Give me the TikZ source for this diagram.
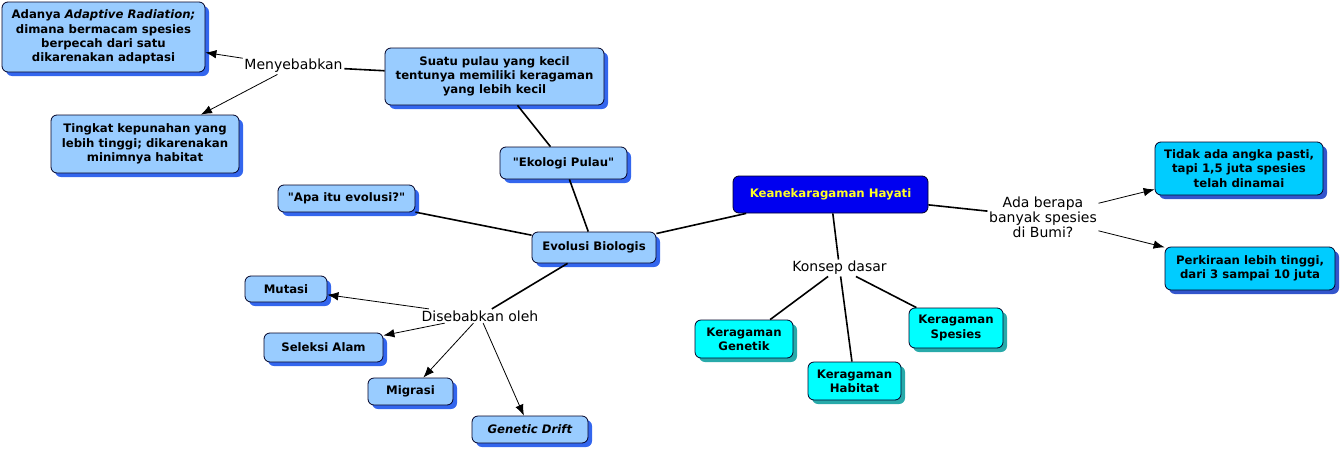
\documentclass[tikz,border=0pt]{standalone}
\usepackage{fontspec}
\setmainfont{DejaVu Sans}
\usetikzlibrary{shadows,arrows.meta}

\definecolor{palefill}{RGB}{153,204,255}
\definecolor{paleshade}{RGB}{51,102,238}
\definecolor{cyanfill}{RGB}{0,255,255}
\definecolor{cyanshade}{RGB}{40,170,170}
\definecolor{skyfill}{RGB}{0,204,255}
\definecolor{skyshade}{RGB}{51,85,204}
\definecolor{hayatifill}{RGB}{0,0,240}
\definecolor{hayatitext}{RGB}{255,255,40}

\tikzset{
  concept/.style={draw=black!85!blue, line width=0.8pt, rounded corners=6pt,
    align=center, inner sep=2pt, font=\fontsize{11.7}{14.3}\selectfont\bfseries},
  palebox/.style={concept, fill=palefill,
    drop shadow={shadow xshift=4pt, shadow yshift=-4pt, opacity=1, fill=paleshade}},
  cyanbox/.style={concept, fill=cyanfill,
    drop shadow={shadow xshift=4pt, shadow yshift=-4pt, opacity=1, fill=cyanshade}},
  skybox/.style={concept, fill=skyfill,
    drop shadow={shadow xshift=4pt, shadow yshift=-4pt, opacity=1, fill=skyshade}},
  hayatibox/.style={concept, fill=hayatifill, text=hayatitext},
  phrase/.style={fill=white, inner sep=1.5pt, align=center,
    font=\fontsize{14}{15}\selectfont},
  link/.style={line width=1.6pt},
  cause/.style={line width=0.8pt, -{Latex[length=11pt,width=8.5pt]}}
}

\begin{document}
\begin{tikzpicture}[x=1pt,y=-1pt]
\useasboundingbox (0,0) rectangle (1341,450);

% left branch
\node[palebox, minimum width=203pt, minimum height=70pt] (adanya) at (103.5,37)
  {Adanya \textit{Adaptive Radiation;}\\ dimana bermacam spesies\\ berpecah dari satu\\ dikarenakan adaptasi};
\node[palebox, minimum width=188pt, minimum height=58pt] (tingkat) at (145,144)
  {Tingkat kepunahan yang\\ lebih tinggi; dikarenakan\\ minimnya habitat};
\node[palebox, minimum width=219pt, minimum height=57pt] (pulau) at (494.5,76.5)
  {Suatu pulau yang kecil\\ tentunya memiliki keragaman\\ yang lebih kecil};
\node[palebox, minimum width=127pt, minimum height=32pt] (ekologi) at (563.5,163)
  {\textquotedbl Ekologi Pulau\textquotedbl};
\node[palebox, minimum width=137pt, minimum height=27pt] (apa) at (346.5,198.5)
  {\textquotedbl Apa itu evolusi?\textquotedbl};
\node[palebox, minimum width=124pt, minimum height=31pt] (evolusi) at (594,247.5) {Evolusi Biologis};
\node[palebox, minimum width=82pt, minimum height=26pt] (mutasi) at (286,289) {Mutasi};
\node[palebox, minimum width=119pt, minimum height=29pt] (seleksi) at (323.5,347.5) {Seleksi Alam};
\node[palebox, minimum width=85pt, minimum height=27pt] (migrasi) at (410.5,391.5) {Migrasi};
\node[palebox, minimum width=116pt, minimum height=27pt] (drift) at (530,429.5) {\textit{Genetic Drift}};

% centre and right
\node[hayatibox, minimum width=195pt, minimum height=37pt] (hayati) at (830.5,194.5) {Keanekaragaman Hayati};
\node[cyanbox, minimum width=98pt, minimum height=38pt] (genetik) at (744,339) {Keragaman\\ Genetik};
\node[cyanbox, minimum width=93pt, minimum height=38pt] (habitat) at (854.5,381) {Keragaman\\ Habitat};
\node[cyanbox, minimum width=94pt, minimum height=40pt] (spesies) at (956,328) {Keragaman\\ Spesies};
\node[skybox, minimum width=168pt, minimum height=53pt] (tidak) at (1239,168.5)
  {Tidak ada angka pasti,\\ tapi 1,5 juta spesies\\ telah dinamai};
\node[skybox, minimum width=170pt, minimum height=43pt] (perkiraan) at (1250,268.5)
  {Perkiraan lebih tinggi,\\ dari 3 sampai 10 juta};

% linking phrases
\node[phrase] (menyebabkan) at (293.5,66) {Menyebabkan};
\node[phrase] (disebabkan) at (480,316) {Disebabkan oleh};
\node[phrase] (konsep) at (839.5,268) {Konsep dasar};
\node[phrase] (berapa) at (1043,217) {Ada berapa\\ banyak spesies\\ di Bumi?};

\draw[link] (pulau) -- (menyebabkan);
\draw[cause] (menyebabkan) -- (adanya);
\draw[cause] (menyebabkan) -- (tingkat);
\draw[link] (pulau) -- (ekologi);
\draw[link] (ekologi) -- (evolusi);
\draw[link] (apa) -- (evolusi);
\draw[link] (evolusi) -- (hayati);
\draw[link] (evolusi) -- (disebabkan);
\draw[cause] (disebabkan) -- (mutasi);
\draw[cause] (disebabkan) -- (seleksi);
\draw[cause] (disebabkan) -- (migrasi);
\draw[cause] (disebabkan) -- (drift);
\draw[link] (hayati) -- (konsep);
\draw[link] (konsep) -- (genetik);
\draw[link] (konsep) -- (habitat);
\draw[link] (konsep) -- (spesies);
\draw[link] (hayati) -- (berapa);
\draw[cause] (berapa) -- (tidak);
\draw[cause] (berapa) -- (perkiraan);
\end{tikzpicture}
\end{document}
